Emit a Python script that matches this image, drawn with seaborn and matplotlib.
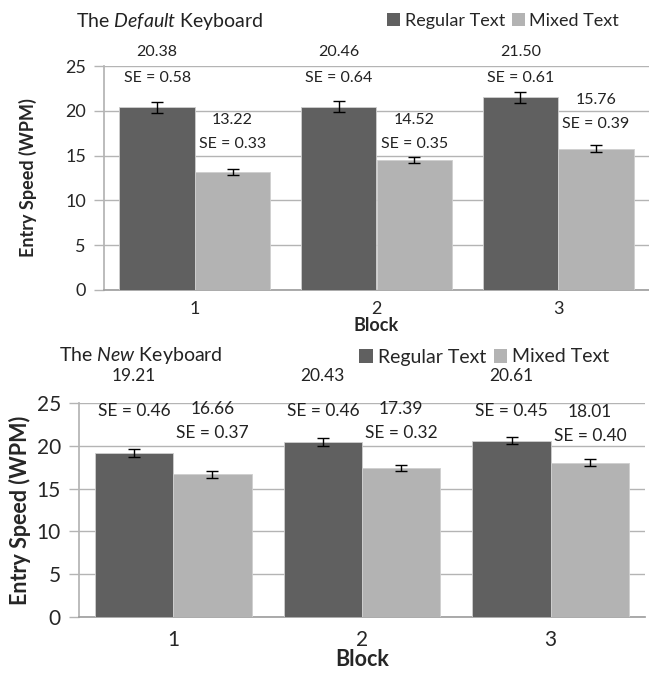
import matplotlib
matplotlib.use("Agg")
import matplotlib.pyplot as plt
import pandas as pd
import seaborn as sns
from matplotlib.patches import Patch

# -----------------------------
# Data
# -----------------------------
blocks = ["1", "2", "3"]
text_types = ["Regular Text", "Mixed Text"]

default_regular = [20.38, 20.46, 21.50]
default_regular_se = [0.58, 0.64, 0.61]
default_mixed = [13.22, 14.52, 15.76]
default_mixed_se = [0.33, 0.35, 0.39]

new_regular = [19.21, 20.43, 20.61]
new_regular_se = [0.46, 0.46, 0.45]
new_mixed = [16.66, 17.39, 18.01]
new_mixed_se = [0.37, 0.32, 0.40]

# label heights (layout only, hand placed like in the original): (value line, SE line)
default_label_y = {"Regular Text": [(26.6, 23.7)] * 3,
                   "Mixed Text": [(19.0, 16.3), (19.0, 16.3), (21.2, 18.5)]}
new_label_y = {"Regular Text": [(28.2, 24.1)] * 3,
               "Mixed Text": [(24.3, 21.5), (24.3, 21.5), (23.9, 21.1)]}

colors = {"Regular Text": "#606060", "Mixed Text": "#b3b3b3"}

sns.set_theme(style="white")
plt.rcParams["font.family"] = ["Lato", "DejaVu Sans"]
plt.rcParams["mathtext.fontset"] = "custom"
plt.rcParams["mathtext.rm"] = "Lato"
plt.rcParams["mathtext.it"] = "Lato:italic"


def make_df(reg, reg_se, mix, mix_se):
    rows = []
    for b, v, s in zip(blocks, reg, reg_se):
        rows.append((b, "Regular Text", v, s))
    for b, v, s in zip(blocks, mix, mix_se):
        rows.append((b, "Mixed Text", v, s))
    return pd.DataFrame(rows, columns=["Block", "Text", "WPM", "SE"])


def draw_panel(ax, df, label_y, fs, title, title_xy, legend_xy, fig):
    sns.barplot(data=df, x="Block", y="WPM", hue="Text", hue_order=text_types,
                palette=colors, width=0.83, errorbar=None, saturation=1,
                edgecolor="#cfcfcf", linewidth=0.6, ax=ax, legend=False, zorder=3)
    for cont, tt in zip(ax.containers, text_types):
        sub = df[df["Text"] == tt]
        xs = [p.get_x() + p.get_width() / 2 for p in cont]
        ax.errorbar(xs, sub["WPM"], yerr=sub["SE"], fmt="none", ecolor="black",
                    elinewidth=1, capsize=4, capthick=1, zorder=4)
        for x, v, s, (ly, sy) in zip(xs, sub["WPM"], sub["SE"], label_y[tt]):
            ax.text(x, ly, f"{v:.2f}", ha="center", va="center", fontsize=fs["ann"],
                    color="#222222", clip_on=False)
            ax.text(x, sy, f"SE = {s:.2f}", ha="center", va="center",
                    fontsize=fs["ann"], color="#222222", clip_on=False)

    ax.set_ylim(0, 25)
    ax.set_xlim(-0.5, 2.5)
    ax.set_yticks([0, 5, 10, 15, 20, 25])
    ax.yaxis.grid(True, color="#b4b4b4", linewidth=1)
    ax.set_axisbelow(True)
    for side in ["top", "right"]:
        ax.spines[side].set_visible(False)
    ax.spines["left"].set_color("#b4b4b4")
    ax.spines["bottom"].set_color("#a0a0a0")
    ax.tick_params(axis="y", length=7, color="#b4b4b4", width=1, labelsize=fs["tick"],
                   pad=6, left=True)
    ax.tick_params(axis="x", length=0, labelsize=fs["tick"], pad=fs["xpad"])
    ax.set_ylabel("Entry Speed (WPM)", fontsize=fs["lab"], fontweight="bold",
                  labelpad=fs["ypad"])
    ax.set_xlabel("Block", fontsize=fs["lab"], fontweight="bold", labelpad=0)

    fig.text(title_xy[0], title_xy[1], title, fontsize=fs["title"], ha="left", va="center",
             color="#222222")
    handles = [Patch(facecolor=colors[t], edgecolor="none") for t in text_types]
    fig.legend(handles, text_types, loc="center right", bbox_to_anchor=legend_xy,
               ncol=2, frameon=False, fontsize=fs["leg"], handlelength=0.7,
               handleheight=0.7, handletextpad=0.25, columnspacing=0.4, borderpad=0)


fig = plt.figure(figsize=(6.49, 6.73), dpi=100)
ax1 = fig.add_axes([104 / 649, 1 - 290 / 673, 545 / 649, 224 / 673])
ax2 = fig.add_axes([79 / 649, 1 - 617 / 673, 566 / 649, 214 / 673])

draw_panel(ax1, make_df(default_regular, default_regular_se, default_mixed, default_mixed_se),
           default_label_y,
           {"ann": 11.5, "tick": 13, "lab": 13, "title": 14, "leg": 13, "xpad": 8, "ypad": 20},
           r"The $\it{Default}$ Keyboard", (76 / 649, 1 - 21 / 673), (628 / 649, 1 - 21 / 673), fig)
draw_panel(ax2, make_df(new_regular, new_regular_se, new_mixed, new_mixed_se),
           new_label_y,
           {"ann": 12.5, "tick": 15, "lab": 15.5, "title": 14, "leg": 14, "xpad": 9, "ypad": 4},
           r"The $\it{New}$ Keyboard", (59 / 649, 1 - 356 / 673), (619 / 649, 1 - 357 / 673), fig)

fig.savefig("out.png", dpi=100)
